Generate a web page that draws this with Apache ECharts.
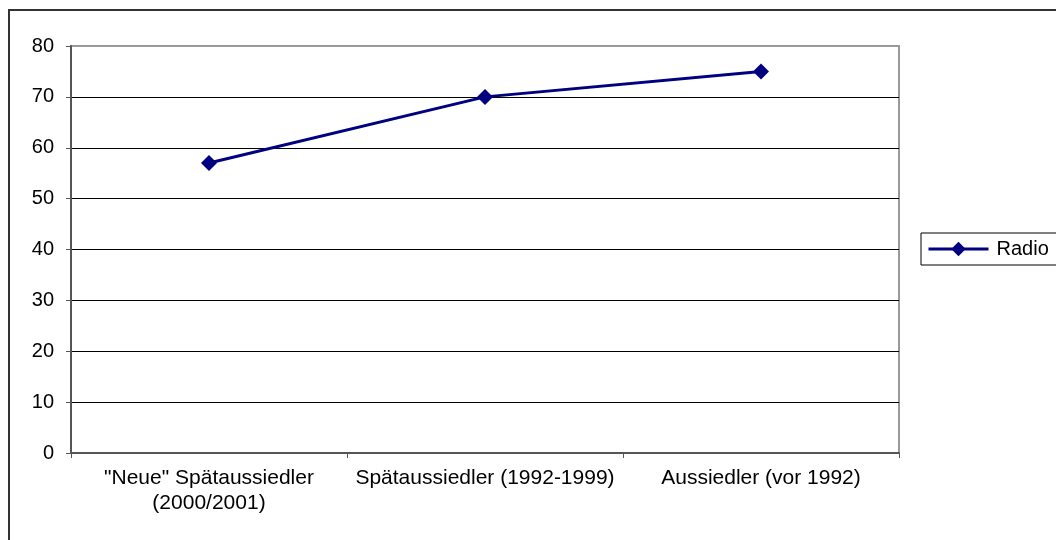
<!DOCTYPE html>
<html>
<head>
<meta charset="utf-8">
<script src="https://cdn.jsdelivr.net/npm/echarts@6/dist/echarts.min.js"></script>
<style>
  html, body { margin: 0; padding: 0; background: #fff; }
  #chart { width: 1056px; height: 540px; }
</style>
</head>
<body>
<div id="chart"></div>
<script>
const categories = ['"Neue" Spätaussiedler\n(2000/2001)', 'Spätaussiedler (1992-1999)', 'Aussiedler (vor 1992)']
const radio = [57, 70, 75]
const seriesName = 'Radio'

const font = '"Liberation Sans", Arial, sans-serif'
const navy = '#000080'

// last split line (80) is the grey plot border, the rest are black
const splitColors = ['#000', '#000', '#000', '#000', '#000', '#000', '#000', '#000', '#9a9a9a']

const chart = echarts.init(document.getElementById('chart'), null, { renderer: 'canvas' })
chart.setOption({
  backgroundColor: '#ffffff',
  animation: false,
  textStyle: { fontFamily: font, color: '#000' },
  grid: {
    left: 71, right: 157, top: 46, bottom: 87,
    show: true,
    borderColor: '#9a9a9a',
    borderWidth: 2,
    backgroundColor: 'transparent',
  },
  graphic: [{
    type: 'rect',
    silent: true,
    shape: { x: 9, y: 10, width: 1100, height: 600 },
    style: { fill: 'none', stroke: '#333', lineWidth: 2 },
  }],
  legend: {
    left: 921,
    top: 233,
    orient: 'vertical',
    borderColor: '#000',
    borderWidth: 1,
    borderRadius: 0,
    padding: [6, 30, 6, 6],
    itemWidth: 60,
    itemHeight: 18,
    itemGap: 0,
    itemStyle: { color: navy },
    lineStyle: { width: 3, color: navy },
    textStyle: { fontFamily: font, fontSize: 20, color: '#000', padding: [0, 0, 0, 3] },
    data: [seriesName],
  },
  xAxis: {
    type: 'category',
    data: categories,
    boundaryGap: true,
    axisLine: { lineStyle: { color: '#555', width: 2 } },
    axisTick: { show: true, interval: 0, length: 5, lineStyle: { color: '#555', width: 1 } },
    axisLabel: {
      interval: 0,
      margin: 13,
      fontFamily: font,
      fontSize: 21,
      lineHeight: 25,
      color: '#000',
    },
    splitLine: { show: false },
  },
  yAxis: {
    type: 'value',
    min: 0, max: 80, interval: 10,
    axisLine: { show: true, lineStyle: { color: '#555', width: 2 } },
    axisTick: { show: true, length: 5, lineStyle: { color: '#555', width: 1 } },
    axisLabel: { margin: 17, fontFamily: font, fontSize: 20, color: '#000' },
    splitLine: { show: true, lineStyle: { color: splitColors, width: 1 } },
  },
  series: [{
    name: seriesName,
    type: 'line',
    data: radio,
    symbol: 'diamond',
    symbolSize: 16,
    lineStyle: { color: navy, width: 3 },
    itemStyle: { color: navy },
    z: 5,
  }],
})
</script>
</body>
</html>
